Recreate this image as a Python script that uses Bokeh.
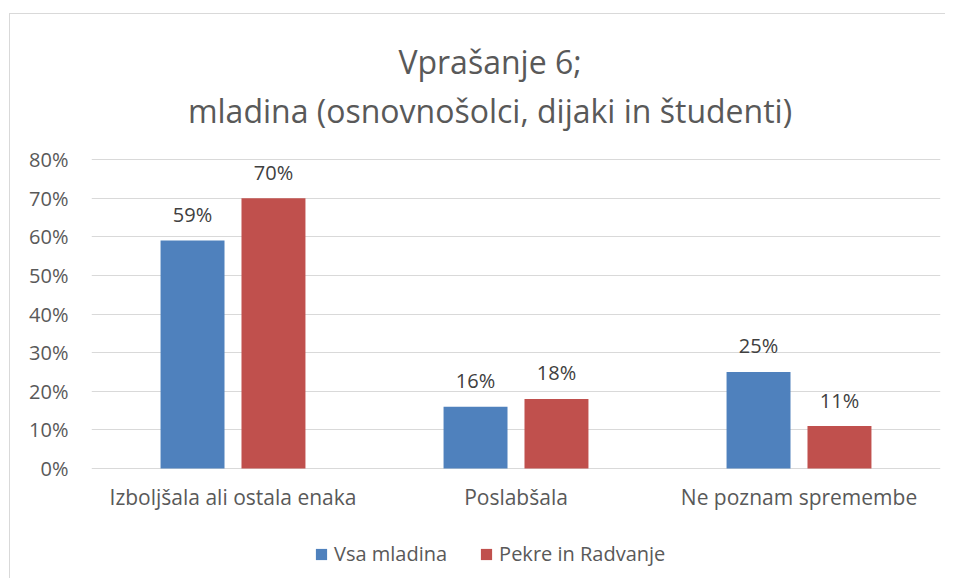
from bokeh.plotting import figure
from bokeh.models import (ColumnDataSource, FactorRange, Range1d, NumeralTickFormatter,
                          Legend, LegendItem, FixedTicker)
from bokeh.transform import dodge
from bokeh.core.properties import value
from bokeh.embed import file_html
from bokeh.resources import INLINE

categories = ["Izboljšala ali ostala enaka", "Poslabšala", "Ne poznam spremembe"]
series_names = ["Vsa mladina", "Pekre in Radvanje"]
vsa_mladina = [0.59, 0.16, 0.25]
pekre_radvanje = [0.70, 0.18, 0.11]
y_ticks = [0, 0.1, 0.2, 0.3, 0.4, 0.5, 0.6, 0.7, 0.8]
title_lines = ["Vprašanje 6;", "mladina (osnovnošolci, dijaki in študenti)"]

BLUE = "#4F81BD"
RED = "#C0504D"
FONT = "Open Sans"

# layout constants (pixels)
PX_PER_UNIT = 386.25           # vertical pixels per 100 %
FRAME_W = 849
PX_ABOVE, PX_BELOW = 448, 100  # frame room above / below the 0 % line
Y_TOP = PX_ABOVE / PX_PER_UNIT
Y_BOTTOM = -PX_BELOW / PX_PER_UNIT

src = ColumnDataSource(dict(
    cat=categories,
    a=vsa_mladina,
    b=pekre_radvanje,
    zero=[0] * len(categories),
    a_lbl=[f"{round(v*100)}%" for v in vsa_mladina],
    b_lbl=[f"{round(v*100)}%" for v in pekre_radvanje],
))

p = figure(frame_width=FRAME_W, frame_height=PX_ABOVE + PX_BELOW,
           x_range=FactorRange(*categories, range_padding=0),
           y_range=Range1d(Y_BOTTOM, Y_TOP), output_backend="svg", toolbar_location=None,
           min_border_left=81, min_border_right=5, min_border_top=6, min_border_bottom=10)
p.margin = (13, 0, 0, 9)
p.styles = {"border-top": "1px solid #d9d9d9", "border-left": "1px solid #d9d9d9"}
p.outline_line_color = None
p.background_fill_color = "white"
p.border_fill_color = "white"

bw = 0.226
off = 0.143
ra = p.vbar(x=dodge("cat", -off, range=p.x_range), top="a", width=bw, source=src,
            fill_color=BLUE, line_color=None)
rb = p.vbar(x=dodge("cat", off, range=p.x_range), top="b", width=bw, source=src,
            fill_color=RED, line_color=None)

for col, lbl, dx in (("a", "a_lbl", -off), ("b", "b_lbl", off)):
    p.text(x=dodge("cat", dx, range=p.x_range), y=col, text=lbl, source=src,
           text_align="center", text_baseline="alphabetic", y_offset=-26,
           text_font=value(FONT), text_font_size="20px", text_color="#404040")

# category labels under the 0 % line
p.text(x="cat", y="zero", text="cat", source=src, y_offset=28,
       text_align="center", text_baseline="alphabetic",
       text_font=value(FONT), text_font_size="21px", text_color="#595959")

# title, two centred lines in the upper part of the frame
title_src = ColumnDataSource(dict(
    x=[categories[1]] * 2,
    y=[(468 - 61) / PX_PER_UNIT, (468 - 110) / PX_PER_UNIT],
    t=title_lines,
))
p.text(x="x", y="y", text="t", source=title_src, x_offset=-26,
       text_align="center", text_baseline="middle",
       text_font=value(FONT), text_font_size="32px", text_color="#595959")

# axes
p.xaxis.visible = False
ticker = FixedTicker(ticks=y_ticks)
p.yaxis.ticker = ticker
p.ygrid.ticker = ticker
p.yaxis.formatter = NumeralTickFormatter(format="0%")
p.yaxis.axis_line_color = None
p.yaxis.major_tick_line_color = None
p.yaxis.minor_tick_line_color = None
p.yaxis.major_tick_out = 0
p.yaxis.major_tick_in = 0
p.yaxis.major_label_text_font = FONT
p.yaxis.major_label_text_font_size = "20px"
p.yaxis.major_label_text_color = "#595959"
p.yaxis.major_label_standoff = 23
p.xgrid.grid_line_color = None
p.ygrid.grid_line_color = "#d9d9d9"
p.ygrid.grid_line_width = 1

legend = Legend(items=[LegendItem(label=series_names[0], renderers=[ra]),
                       LegendItem(label=series_names[1], renderers=[rb])],
                orientation="horizontal", location=(223, 1),
                padding=0, margin=0, spacing=32, label_standoff=6,
                glyph_width=14, glyph_height=14,
                label_text_font=FONT, label_text_font_size="20px",
                label_text_color="#595959", border_line_color=None,
                background_fill_alpha=0)
p.add_layout(legend, "center")

open("out.html", "w").write(file_html(p, INLINE))
